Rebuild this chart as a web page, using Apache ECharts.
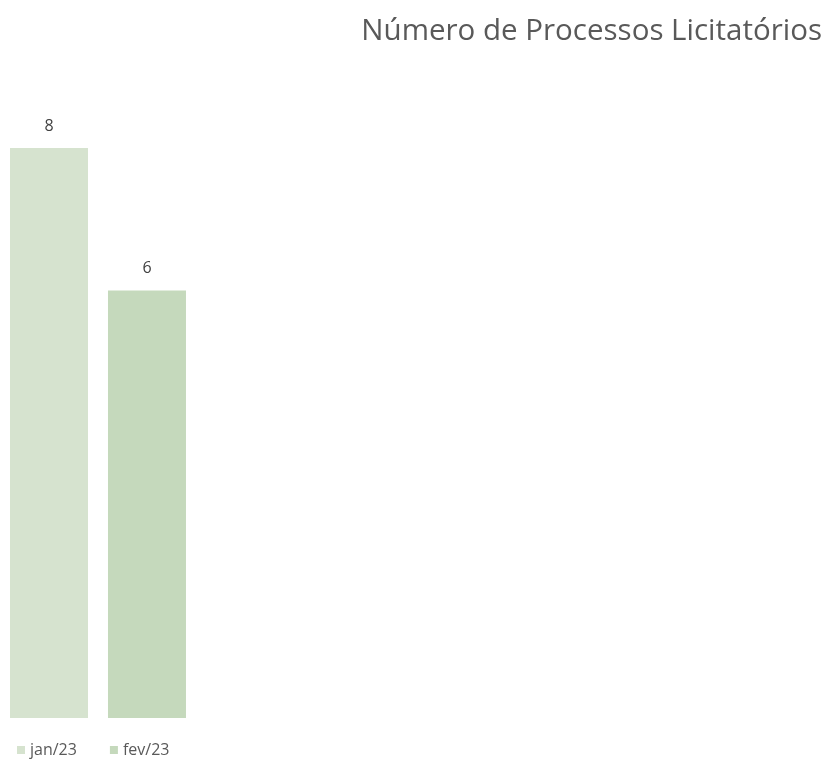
<!DOCTYPE html>
<html><head><meta charset="utf-8">
<script src="https://cdn.jsdelivr.net/npm/echarts@6/dist/echarts.min.js"></script>
<style>html,body{margin:0;padding:0;background:#fff}#c{width:825px;height:763px}</style>
</head><body><div id="c"></div>
<script>
const titleText = "Número de Processos Licitatórios";
const categories = [""];
const seriesNames = ["jan/23", "fev/23"];
const seriesValues = [[8], [6]];
const seriesColors = ["#d6e3cf", "#c5d9bc"];

const chart = echarts.init(document.getElementById('c'), null, {renderer: 'canvas'});
chart.setOption({
  animation: false,
  backgroundColor: '#fff',
  title: {
    text: titleText, right: -2, top: 12,
    textStyle: {fontFamily: 'Open Sans', fontSize: 29.5, fontWeight: 'normal', color: '#595959'}
  },
  legend: {
    data: seriesNames, left: 12, top: 737, itemWidth: 8, itemHeight: 8, itemGap: 33,
    icon: 'rect',
    textStyle: {fontFamily: 'Open Sans', fontSize: 16, color: '#595959'}
  },
  grid: {left: 10, width: 176, top: 5.5, bottom: 45, containLabel: false},
  xAxis: {type: 'category', data: categories, show: false},
  yAxis: {type: 'value', min: 0, max: 10, show: false},
  series: seriesNames.map((n, i) => ({
    name: n, type: 'bar', data: seriesValues[i], barWidth: 78, barGap: '25.6%', barCategoryGap: 0,
    itemStyle: {color: seriesColors[i]},
    label: {show: true, position: 'top', distance: 14, fontFamily: 'Open Sans', fontSize: 16, color: '#404040'}
  }))
});
</script></body></html>
